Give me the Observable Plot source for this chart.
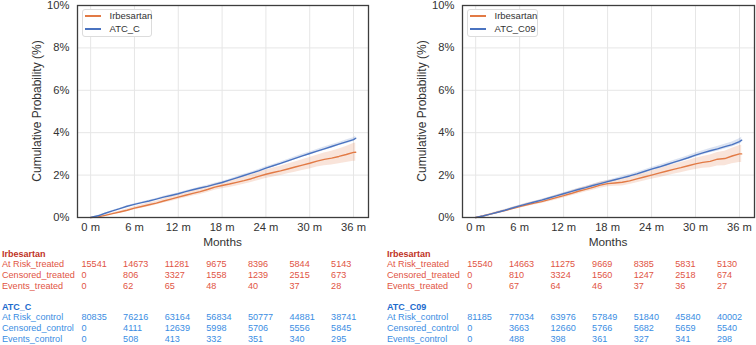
<!DOCTYPE html>
<html><head><meta charset="utf-8">
<script src="https://cdn.jsdelivr.net/npm/d3@7"></script>
<script src="https://cdn.jsdelivr.net/npm/@observablehq/plot@0.6"></script>
<style>
body{margin:0;background:#fff;font-family:"Liberation Sans",Arial,sans-serif;}
#fig{position:relative;width:756px;height:345px;overflow:hidden;background:#fff}
.abs{position:absolute;white-space:nowrap}
.tb{font-size:9.1px;line-height:10px}
.hd{font-size:9px;font-weight:bold;line-height:10px}
.leg{position:absolute;border:1px solid #dcdcdc;border-radius:3px;background:#fff;box-sizing:border-box}
</style></head><body><div id="fig"></div>
<script>
// ---- data ----
const months = [0,1,2,3,4,5,6,7,8,9,10,11,12,13,14,15,16,17,18,19,20,21,22,23,24,25,26,27,28,29,30,31,32,33,34,35,36,36.3];
const xTicks = [0,6,12,18,24,30,36];
const yTicks = [0,2,4,6,8,10];

// left panel: Irbesartan vs ATC_C (cumulative probability, %)
const leftTreated = [0,0.03,0.1,0.18,0.26,0.34,0.44,0.52,0.6,0.68,0.78,0.87,0.96,1.05,1.14,1.22,1.32,1.43,1.51,1.58,1.66,1.74,1.83,1.94,2.04,2.12,2.2,2.29,2.38,2.47,2.56,2.66,2.74,2.8,2.88,2.97,3.07,3.08];
const leftTreatedCI = [0,0.02,0.03,0.04,0.05,0.06,0.07,0.08,0.09,0.09,0.1,0.11,0.11,0.12,0.13,0.13,0.14,0.15,0.15,0.16,0.17,0.17,0.18,0.19,0.2,0.21,0.22,0.23,0.24,0.25,0.27,0.28,0.3,0.32,0.35,0.38,0.42,0.43];
const leftControl = [0,0.08,0.2,0.31,0.42,0.53,0.62,0.7,0.78,0.87,0.96,1.04,1.12,1.22,1.31,1.39,1.47,1.56,1.65,1.76,1.87,1.98,2.09,2.2,2.33,2.44,2.55,2.67,2.79,2.91,3.02,3.13,3.24,3.35,3.46,3.57,3.67,3.74];
const leftControlCI = [0,0.01,0.01,0.02,0.02,0.02,0.03,0.03,0.03,0.03,0.04,0.04,0.04,0.04,0.04,0.05,0.05,0.05,0.05,0.05,0.05,0.06,0.06,0.06,0.06,0.06,0.07,0.07,0.07,0.07,0.07,0.08,0.08,0.08,0.08,0.09,0.09,0.09];

// right panel: Irbesartan vs ATC_C09
const rightTreated = [0,0.07,0.16,0.25,0.33,0.42,0.51,0.6,0.68,0.75,0.84,0.94,1.03,1.13,1.24,1.33,1.42,1.53,1.6,1.63,1.66,1.73,1.82,1.91,2.0,2.09,2.18,2.27,2.35,2.44,2.53,2.6,2.65,2.75,2.78,2.9,3.0,3.0];
const rightTreatedCI = [0,0.02,0.03,0.04,0.05,0.06,0.07,0.08,0.09,0.09,0.1,0.11,0.11,0.12,0.13,0.13,0.14,0.15,0.15,0.16,0.17,0.17,0.18,0.19,0.2,0.21,0.22,0.23,0.24,0.25,0.26,0.28,0.3,0.32,0.34,0.37,0.4,0.41];
const rightControl = [0,0.07,0.16,0.25,0.34,0.45,0.55,0.64,0.73,0.82,0.92,1.02,1.12,1.22,1.32,1.41,1.51,1.6,1.69,1.78,1.87,1.96,2.06,2.17,2.28,2.38,2.49,2.6,2.71,2.82,2.94,3.05,3.15,3.24,3.34,3.44,3.58,3.65];
const rightControlCI = [0,0.01,0.01,0.02,0.02,0.02,0.03,0.03,0.03,0.04,0.04,0.04,0.05,0.05,0.05,0.05,0.06,0.06,0.06,0.06,0.07,0.07,0.07,0.07,0.08,0.08,0.08,0.09,0.09,0.09,0.1,0.1,0.1,0.11,0.11,0.12,0.13,0.14];

// risk tables
const rowLabelsT = ["At Risk_treated","Censored_treated","Events_treated"];
const rowLabelsC = ["At Risk_control","Censored_control","Events_control"];
const leftTableT = [[15541,14673,11281,9675,8396,5844,5143],[0,806,3327,1558,1239,2515,673],[0,62,65,48,40,37,28]];
const leftTableC = [[80835,76216,63164,56834,50777,44881,38741],[0,4111,12639,5998,5706,5556,5845],[0,508,413,332,351,340,295]];
const rightTableT = [[15540,14663,11275,9669,8385,5831,5130],[0,810,3324,1560,1247,2518,674],[0,67,64,46,37,36,27]];
const rightTableC = [[81185,77034,63976,57849,51840,45840,40002],[0,3663,12660,5766,5682,5659,5540],[0,488,398,361,327,341,298]];

const treatedName = "Irbesartan";
const controlNames = ["ATC_C","ATC_C09"];

// ---- styling ----
const ORANGE = "#e27a45", BLUE = "#4a73c0";
const RED_H = "#c0321f", RED_R = "#df5444", BLUE_H = "#1c6bcd", BLUE_R = "#3a8de3";
const fig = document.getElementById("fig");

function series(vals, ci){ return months.map((m,i)=>({m, v: vals[i], lo: vals[i]-ci[i], hi: vals[i]+ci[i]})); }

function panel(left, mLeft, mRight, tr, trCI, co, coCI, ctrlName, table){
  const T = series(tr, trCI), C = series(co, coCI);
  const svg = Plot.plot({
    width: 378, height: 250,
    marginLeft: mLeft, marginRight: mRight, marginTop: 5, marginBottom: 33,
    x: {domain: [-1.8, 38.05]},
    y: {domain: [0, 10]},
    style: {fontFamily: '"Liberation Sans", Arial, sans-serif', fontSize: "11.2px", color: "#333", background: "transparent"},
    marks: [
      Plot.gridX(xTicks, {stroke: "#e6e6e6", strokeOpacity: 1}),
      Plot.gridY(yTicks, {stroke: "#e6e6e6", strokeOpacity: 1}),
      Plot.areaY(T, {x: "m", y1: "lo", y2: "hi", fill: ORANGE, fillOpacity: 0.2}),
      Plot.areaY(C, {x: "m", y1: "lo", y2: "hi", fill: BLUE, fillOpacity: 0.2}),
      Plot.lineY(T, {x: "m", y: "v", stroke: ORANGE, strokeWidth: 1.4}),
      Plot.lineY(C, {x: "m", y: "v", stroke: BLUE, strokeWidth: 1.4}),
      Plot.axisX(xTicks, {tickSize: 0, tickPadding: 6, tickFormat: d => d + " m", label: null}),
      Plot.axisY(yTicks, {tickSize: 0, tickPadding: 8, tickFormat: d => d + "%", label: null}),
      Plot.frame({stroke: "#3d3d3d", strokeWidth: 1.3})
    ]
  });
  svg.style.position = "absolute"; svg.style.left = left + "px"; svg.style.top = "0px";
  fig.appendChild(svg);

  const frameL = left + mLeft, frameR = left + 378 - mRight;
  // axis labels
  const yl = document.createElement("div");
  yl.className = "abs";
  yl.textContent = "Cumulative Probability (%)";
  yl.style.cssText += `font-size:12px;color:#333;left:${frameL-40}px;top:111px;transform:translate(-50%,-50%) rotate(-90deg);`;
  fig.appendChild(yl);
  const xl = document.createElement("div");
  xl.className = "abs";
  xl.textContent = "Months";
  xl.style.cssText += `font-size:11.8px;color:#333;left:${(frameL+frameR)/2}px;top:242px;transform:translate(-50%,-50%);`;
  fig.appendChild(xl);

  // legend
  const lg = document.createElement("div");
  lg.className = "leg";
  const lw = ctrlName.length > 5 ? 71 : 70;
  lg.style.cssText += `left:${frameL+4.5}px;top:9px;width:${lw}px;height:28px;`;
  fig.appendChild(lg);
  [[treatedName, ORANGE, 16],[ctrlName, BLUE, 29]].forEach(([name,col,yc])=>{
    const ln = document.createElement("div");
    ln.className = "abs";
    ln.style.cssText += `left:${frameL+8}px;top:${yc-0.7}px;width:15.5px;height:1.4px;background:${col};`;
    fig.appendChild(ln);
    const tx = document.createElement("div");
    tx.className = "abs";
    tx.textContent = name;
    tx.style.cssText += `left:${frameL+32.5}px;top:${yc-6}px;font-size:9.5px;line-height:12px;color:#333;`;
    fig.appendChild(tx);
  });

  // risk table
  const labX = table.labX, valX = table.valX;
  function put(text, x, yc, cls, col){
    const d = document.createElement("div");
    d.className = "abs " + cls; d.textContent = text;
    d.style.left = x + "px"; d.style.top = (yc - 5) + "px"; d.style.color = col;
    fig.appendChild(d);
  }
  put(treatedName, labX, 254, "hd", RED_H);
  rowLabelsT.forEach((lab, r) => {
    const yc = 264.4 + r*10.6;
    put(lab, labX, yc, "tb", RED_R);
    table.T[r].forEach((v, i) => put(String(v), valX + i*41.6, yc, "tb", RED_R));
  });
  put(ctrlName, labX, 306.7, "hd", BLUE_H);
  rowLabelsC.forEach((lab, r) => {
    const yc = 317.3 + r*10.6;
    put(lab, labX, yc, "tb", BLUE_R);
    table.C[r].forEach((v, i) => put(String(v), valX + i*41.6, yc, "tb", BLUE_R));
  });
}

panel(0, 77, 10, leftTreated, leftTreatedCI, leftControl, leftControlCI, controlNames[0],
  {labX: 2, valX: 81.5, T: leftTableT, C: leftTableC});
panel(378, 84, 2, rightTreated, rightTreatedCI, rightControl, rightControlCI, controlNames[1],
  {labX: 387, valX: 467.3, T: rightTableT, C: rightTableC});
</script></body></html>
